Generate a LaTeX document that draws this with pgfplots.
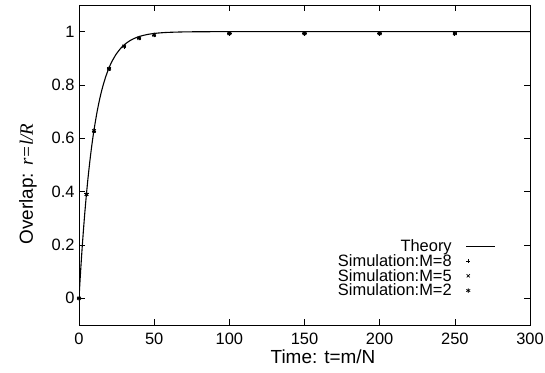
\documentclass[border=0pt]{standalone}
\usepackage{fontspec}
\setmainfont{Liberation Sans}
\newfontfamily\tmsfont{Liberation Serif}
\usepackage{pgfplots}
\pgfplotsset{compat=1.18}
\begin{document}
\begin{tikzpicture}
\path[use as bounding box] (0,0) rectangle (545bp,373bp);
\begin{axis}[
  at={(79bp,48bp)}, anchor=south west,
  scale only axis, width=451bp, height=320bp,
  xmin=0, xmax=300, ymin=-0.1, ymax=1.1,
  xtick={0,50,100,150,200,250,300},
  ytick={0,0.2,0.4,0.6,0.8,1},
  yticklabels={0,0.2,0.4,0.6,0.8,1},
  tick align=inside, major tick length=6bp,
  tick style={black, line width=0.6bp},
  axis line style={black, line width=0.8bp},
  /pgf/number format/assume math mode=true,
  tick label style={font=\fontsize{16.5}{18}\selectfont},
  xticklabel style={yshift=-5bp},
  yticklabel style={xshift=-1bp},
  label style={font=\fontsize{19}{21}\selectfont},
  xlabel={Time: t=m/N},
  ylabel={Overlap: {\tmsfont\itshape r=l/R}},
  xlabel style={at={(axis description cs:0.541,-0.1)}, anchor=center},
  ylabel style={at={(axis description cs:-0.1131,0.4406)}, anchor=center},
  legend plot pos=right,
  legend cell align=right,
  legend style={draw=none, fill=none, at={(0.9246,0.274)}, anchor=north east,
    font=\fontsize{16.5}{15}\selectfont, row sep=-2.6bp, inner sep=0pt},
]
\addplot[black, line width=1.1bp, smooth,
  legend image code/.code={\path (0bp,0bp) (41bp,0bp); \draw[black, line width=1.1bp] (12bp,0bp) -- (41bp,0bp);}]
  coordinates {
  (0,0) (1,0.0952) (2,0.1813) (3,0.2592) (4,0.3297) (5,0.3935) (6,0.4512)
  (7,0.5034) (8,0.5507) (9,0.5934) (10,0.6321) (12,0.6988) (14,0.7534)
  (16,0.7981) (18,0.8347) (20,0.8647) (22,0.8892) (25,0.9179) (28,0.9392)
  (30,0.9502) (33,0.9631) (36,0.9727) (40,0.9817) (45,0.9889) (50,0.9933)
  (55,0.9959) (60,0.9975) (70,0.9991) (80,0.9997) (90,0.9999) (100,1.0)
  (150,1.0) (200,1.0) (250,1.0) (300,1.0)};
\addlegendentry{Theory}
\addplot[only marks, black, mark=+, mark size=2.2bp, line width=0.7bp,
  legend image code/.code={\path (0bp,0bp) (41bp,0bp); \draw[black, line width=0.7bp] plot[mark=+, mark size=2.2bp] coordinates {(14bp,0bp)};}]
  coordinates {(0,0.0) (5,0.392) (10,0.628) (20,0.861) (30,0.945) (40,0.976)
  (50,0.988) (100,0.992) (150,0.992) (200,0.992) (250,0.992)};
\addlegendentry{Simulation:M=8}
\addplot[only marks, black, mark=x, mark size=2.2bp, line width=0.7bp,
  legend image code/.code={\path (0bp,0bp) (41bp,0bp); \draw[black, line width=0.7bp] plot[mark=x, mark size=2.2bp] coordinates {(14bp,0bp)};}]
  coordinates {(0,0.0) (5,0.390) (10,0.627) (20,0.860) (30,0.945) (40,0.975)
  (50,0.987) (100,0.993) (150,0.993) (200,0.993) (250,0.993)};
\addlegendentry{Simulation:M=5}
\addplot[only marks, black, mark=asterisk, mark size=2.2bp, line width=0.7bp,
  legend image code/.code={\path (0bp,0bp) (41bp,0bp); \draw[black, line width=0.7bp] plot[mark=asterisk, mark size=2.2bp] coordinates {(14bp,0bp)};}]
  coordinates {(0,0.0) (5,0.389) (10,0.629) (20,0.862) (30,0.946) (40,0.976)
  (50,0.988) (100,0.993) (150,0.993) (200,0.993) (250,0.993)};
\addlegendentry{Simulation:M=2}
\end{axis}
\end{tikzpicture}
\end{document}
